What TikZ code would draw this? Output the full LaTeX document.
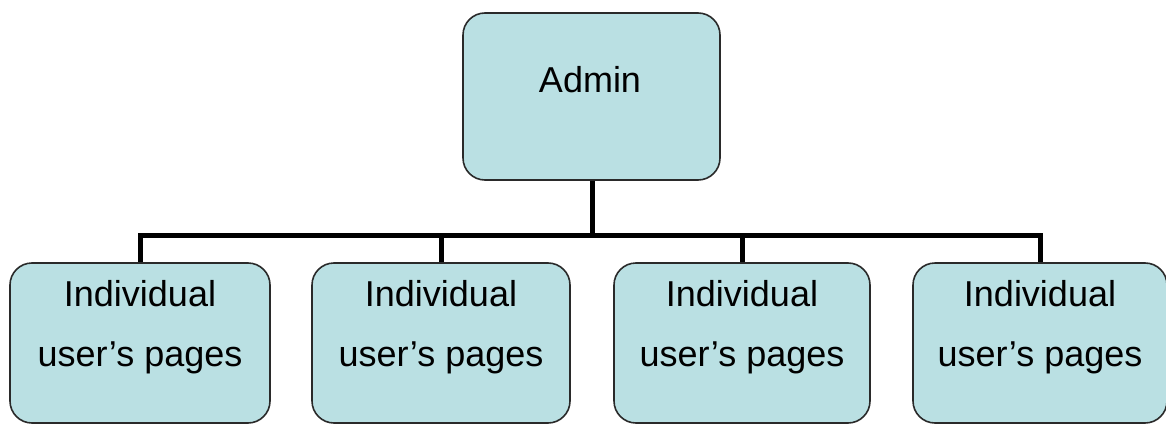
\documentclass[tikz,border=0pt]{standalone}
\usepackage{fontspec}
\setmainfont{Liberation Sans}
\definecolor{boxfill}{HTML}{BAE0E3}
\definecolor{boxline}{HTML}{2A2A2A}
\begin{document}
\begin{tikzpicture}[x=1pt,y=-1pt,
  box/.style={draw=boxline,line width=1.6pt,fill=boxfill,rounded corners=22pt,inner sep=0pt},
  lbl/.style={font=\fontsize{36}{60}\selectfont,align=center,inner sep=0pt},
  conn/.style={draw=black,line width=5pt}]
\useasboundingbox (0,0) rectangle (1166,425);
\node[box,minimum width=257pt,minimum height=167pt] (admin) at (591.5,96.5) {};
\node[lbl] (admint) at (590,80) {Admin};
\node[box,minimum width=260pt,minimum height=160pt] (b1) at (140,343) {};
\node[box,minimum width=258pt,minimum height=160pt] (b2) at (441,343) {};
\node[box,minimum width=256pt,minimum height=160pt] (b3) at (742,343) {};
\node[box,minimum width=254pt,minimum height=160pt] (b4) at (1040,343) {};
\foreach \n/\x in {b1/140,b2/441,b3/742,b4/1040}
  \node[lbl] (\n t) at (\x,327) {Individual\\user's pages};
\coordinate (bar) at (592,235);
\draw[conn] (admin.south -| bar) -- (bar);
\draw[conn] (bar) -| (b1.north);
\draw[conn] (bar) -| (b2.north);
\draw[conn] (bar) -| (b3.north);
\draw[conn] (bar) -| (b4.north);
\end{tikzpicture}
\end{document}
